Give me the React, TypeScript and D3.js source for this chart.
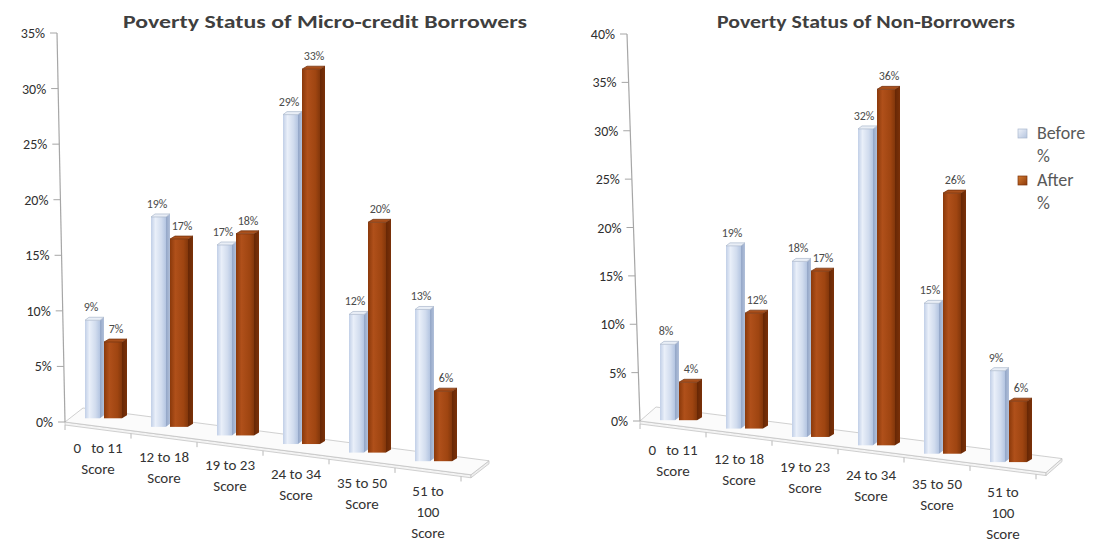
import React from "react";
import * as d3 from "d3";

// ---------- data ----------
const categoryLines: string[][] = [
  ["0   to 11", "Score"],
  ["12 to 18", "Score"],
  ["19 to 23", "Score"],
  ["24 to 34", "Score"],
  ["35 to 50", "Score"],
  ["51 to", "100", "Score"],
];
const borrowersBefore = [9, 19, 17, 29, 12, 13];
const borrowersAfter = [7, 17, 18, 33, 20, 6];
const nonBorrowersBefore = [8, 19, 18, 32, 15, 9];
const nonBorrowersAfter = [4, 12, 17, 36, 26, 6];
const leftTicks = [0, 5, 10, 15, 20, 25, 30, 35];
const rightTicks = [0, 5, 10, 15, 20, 25, 30, 35, 40];
const seriesNames = ["Before", "After"];
const titles = ["Poverty Status of Micro-credit Borrowers", "Poverty Status of Non-Borrowers"];

// ---------- layout ----------
const W = 1097;
const H = 543;
const FONT = "Carlito, Lato, 'Liberation Sans', Arial, sans-serif";

type Layout = {
  FLx: number; FLy: number; slope: number; Dx: number; Dy: number; baseOff: number;
  axisTopX: number; yTopPx: number; yMax: number; ticks: number[];
  titleX: number; titleLen: number;
  before: number[]; after: number[]; title: string;
};

const layouts: Layout[] = [
  {
    FLx: 65, FLy: 422, slope: 0.13, Dx: 18, Dy: -14, baseOff: 8,
    axisTopX: 57, yTopPx: 33, yMax: 35, ticks: leftTicks,
    titleX: 325, titleLen: 404,
    before: borrowersBefore, after: borrowersAfter, title: titles[0],
  },
  {
    FLx: 640, FLy: 421, slope: 0.127, Dx: 16, Dy: -14, baseOff: 5,
    axisTopX: 627, yTopPx: 34, yMax: 40, ticks: rightTicks,
    titleX: 866, titleLen: 298,
    before: nonBorrowersBefore, after: nonBorrowersAfter, title: titles[1],
  },
];

// perspective: bars nearer the viewer (to the right) look slightly taller
const persp = (i: number) => 0.98 + 0.014 * i;

function Bar({ x0, w, sw, sh, top, bottom, kind }: any) {
  const x1 = x0 + w;
  const side = `M${x1},${top} L${x1 + sw},${top - sh} L${x1 + sw},${bottom - sh} L${x1},${bottom} Z`;
  const topFace = `M${x0},${top} L${x1},${top} L${x1 + sw},${top - sh} L${x0 + sw},${top - sh} Z`;
  const isB = kind === "b";
  return (
    <g>
      <path d={side} fill={isB ? "url(#bSide)" : "url(#aSide)"} />
      <rect x={x0} y={top} width={w} height={Math.max(0, bottom - top)} fill={isB ? "url(#bFront)" : "url(#aFront)"} />
      <path d={topFace} fill={isB ? "#e9eef6" : "#a9501c"} stroke={isB ? "#aab7cc" : "#6e2c08"} strokeWidth={0.7} />
    </g>
  );
}

function Chart({ L }: { L: Layout }) {
  const idx = d3.range(categoryLines.length);
  const band = d3.scaleBand<number>().domain(idx).range([L.FLx, L.FLx + 66 * idx.length]).paddingInner(0).paddingOuter(0);
  const h = d3.scaleLinear().domain([0, L.yMax]).range([0, L.FLy - L.yTopPx]);
  const frontY = (x: number) => L.FLy + (x - L.FLx) * L.slope;
  const floorW = 66 * idx.length + 10;
  const FL: [number, number] = [L.FLx, L.FLy];
  const FR: [number, number] = [L.FLx + floorW, frontY(L.FLx + floorW)];
  const BR: [number, number] = [FR[0] + L.Dx, FR[1] + L.Dy];
  const BL: [number, number] = [FL[0] + L.Dx, FL[1] + L.Dy];
  const th = 3;
  const axisX = (v: number) => L.FLx + (L.axisTopX - L.FLx) * (v / L.yMax);

  return (
    <g>
      <text x={L.titleX} y={28} textAnchor="middle" fontFamily={FONT} fontWeight="bold" fontSize={19}
        fill="#3f3f3f" textLength={L.titleLen} lengthAdjust="spacingAndGlyphs">{L.title}</text>

      {/* floor slab */}
      <path d={`M${FL} L${FR} L${FR[0]},${FR[1] + th} L${FL[0]},${FL[1] + th} Z`} fill="#f4f4f4" stroke="#c4c4c4" strokeWidth={0.8} />
      <path d={`M${FR} L${BR} L${BR[0]},${BR[1] + th} L${FR[0]},${FR[1] + th} Z`} fill="#eeeeee" stroke="#c4c4c4" strokeWidth={0.8} />
      <path d={`M${FL} L${FR} L${BR} L${BL} Z`} fill="#fbfbfb" stroke="#c4c4c4" strokeWidth={0.8} />

      {/* category ticks on floor front */}
      {d3.range(idx.length + 1).map((i) => {
        const x = L.FLx + 66 * i;
        const y = frontY(x) + th;
        return <line key={i} x1={x} y1={y} x2={x} y2={y + 5} stroke="#b8b8b8" strokeWidth={1} />;
      })}

      {/* value axis */}
      <line x1={L.FLx} y1={L.FLy} x2={L.axisTopX} y2={L.yTopPx} stroke="#a6a6a6" strokeWidth={1.2} />
      {L.ticks.map((t) => {
        const x = axisX(t);
        const y = L.FLy - h(t);
        return (
          <g key={t}>
            <line x1={x - 7} y1={y} x2={x} y2={y} stroke="#a6a6a6" strokeWidth={1} />
            <text x={x - 12} y={y + 5} textAnchor="end" fontFamily={FONT} fontSize={14} fill="#2f2f2f">{t}%</text>
          </g>
        );
      })}

      {/* bars */}
      {idx.map((i) => {
        const c = (band(i) as number) + band.bandwidth() / 2;
        const b = c + 6;
        const bottom = frontY(c) - L.baseOff;
        const vb = L.before[i];
        const va = L.after[i];
        const tb = bottom - h(vb) * persp(i);
        const ta = bottom - h(va) * persp(i);
        return (
          <g key={i}>
            <Bar x0={b - 19} w={15} sw={4} sh={3} top={tb} bottom={bottom} kind="b" />
            <Bar x0={b} w={18} sw={5} sh={3} top={ta} bottom={bottom} kind="a" />
            <text x={b - 13} y={tb - 9} textAnchor="middle" fontFamily={FONT} fontSize={12} fill="#4a4a4a">{vb}%</text>
            <text x={b + 12} y={ta - 9} textAnchor="middle" fontFamily={FONT} fontSize={12} fill="#4a4a4a">{va}%</text>
          </g>
        );
      })}

      {/* category labels */}
      {idx.map((i) => {
        const c = (band(i) as number) + band.bandwidth() / 2;
        const bottom = frontY(c) - L.baseOff;
        const y0 = bottom + 35;
        return (
          <text key={i} x={c} y={y0} textAnchor="middle" fontFamily={FONT} fontSize={15} fill="#333" xmlSpace="preserve">
            {categoryLines[i].map((ln, k) => (
              <tspan key={k} x={c} dy={k === 0 ? 0 : 21} style={{ whiteSpace: "pre" }}>{ln}</tspan>
            ))}
          </text>
        );
      })}
    </g>
  );
}

export default function App() {
  return (
    <svg width={W} height={H} style={{ position: "absolute", left: 0, top: 0, background: "#fff" }}>
      <defs>
        <linearGradient id="bFront" x1="0" x2="1" y1="0" y2="0">
          <stop offset="0" stopColor="#c1cfe7" />
          <stop offset="0.3" stopColor="#e9eff9" />
          <stop offset="0.7" stopColor="#d1dcee" />
          <stop offset="1" stopColor="#b4c5e1" />
        </linearGradient>
        <linearGradient id="bSide" x1="0" x2="1" y1="0" y2="0">
          <stop offset="0" stopColor="#93a6c7" />
          <stop offset="1" stopColor="#b1c0da" />
        </linearGradient>
        <linearGradient id="aFront" x1="0" x2="1" y1="0" y2="0">
          <stop offset="0" stopColor="#8a390b" />
          <stop offset="0.3" stopColor="#b0501a" />
          <stop offset="0.75" stopColor="#9f4511" />
          <stop offset="1" stopColor="#83370b" />
        </linearGradient>
        <linearGradient id="aSide" x1="0" x2="1" y1="0" y2="0">
          <stop offset="0" stopColor="#672705" />
          <stop offset="1" stopColor="#7a3109" />
        </linearGradient>
        <linearGradient id="legB" x1="0" x2="1" y1="0" y2="1">
          <stop offset="0" stopColor="#eef2f9" />
          <stop offset="1" stopColor="#b4c4de" />
        </linearGradient>
        <linearGradient id="legA" x1="0" x2="1" y1="0" y2="1">
          <stop offset="0" stopColor="#d27a30" />
          <stop offset="1" stopColor="#8e3a0b" />
        </linearGradient>
      </defs>
      {layouts.map((L, i) => (
        <Chart key={i} L={L} />
      ))}
      {/* legend */}
      {seriesNames.map((s, i) => {
        const y = 133 + i * 47;
        return (
          <g key={s}>
            <rect x={1018} y={y - 4} width={9} height={9} fill={i === 0 ? "url(#legB)" : "url(#legA)"} stroke={i === 0 ? "#a9b7cf" : "#7a3209"} strokeWidth={0.7} />
            <text x={1037} y={y + 6} fontFamily={FONT} fontSize={18} fill="#595959">{s}</text>
            <text x={1037} y={y + 29} fontFamily={FONT} fontSize={18} fill="#595959">%</text>
          </g>
        );
      })}
    </svg>
  );
}
